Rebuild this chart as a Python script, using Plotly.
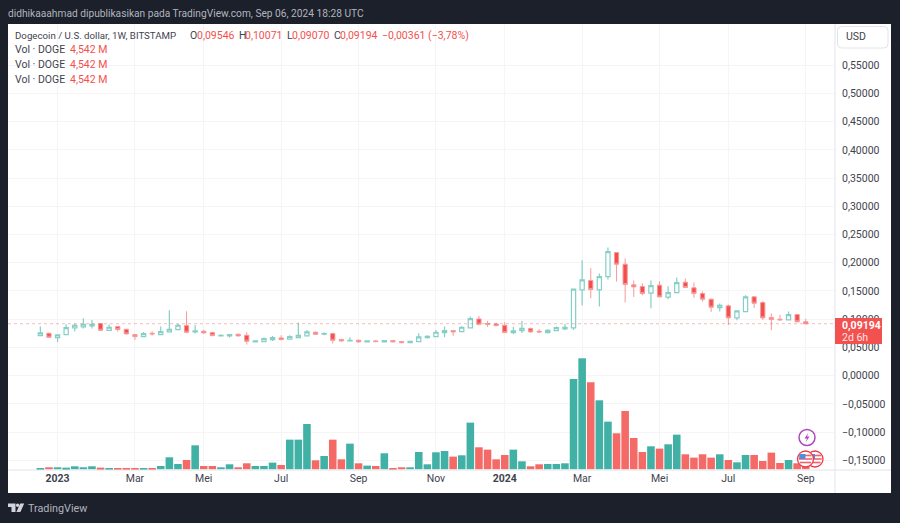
import pandas as pd
import plotly.graph_objects as go

# ------------------------
# Data (weekly DOGE/USD, Bitstamp)
# ------------------------
first_week = "2022-12-19"

open_ = [
    .0709, .0750, .0674, .0727, .0845, .0863, .0880, .0922, .0803, .0868,
    .0821, .0727, .0691, .0750, .0727, .0774, .0815, .0886, .0774, .0786,
    .0762, .0703, .0703, .0733, .0715, .0597, .0603, .0638, .0668, .0644,
    .0674, .0703, .0768, .0733, .0744, .0638, .0615, .0626, .0597, .0615,
    .0597, .0621, .0603, .0585, .0603, .0674, .0691, .0762, .0798, .0780,
    .0845, .1004, .0922, .0916, .0892, .0762, .0798, .0833, .0786, .0762,
    .0798, .0827, .0846, .1519, .1685, .1519, .1755, .2181, .1974, .1608,
    .1578, .1460, .1602, .1389, .1472, .1655, .1555, .1454, .1354, .1206,
    .1236, .1023, .1135, .1395, .1295, .1029, .0999, .0988, .1082, .09546,
]
high = [
    .0868, .0762, .0733, .0910, .0922, .1016, .0987, .0933, .0904, .0880,
    .0827, .0739, .0774, .0786, .0868, .1158, .0916, .1140, .0892, .0815,
    .0774, .0733, .0739, .0739, .0768, .0626, .0674, .0703, .0715, .0715,
    .0939, .0809, .0786, .0768, .0762, .0650, .0679, .0638, .0626, .0632,
    .0632, .0626, .0609, .0615, .0750, .0715, .0809, .0868, .0809, .0874,
    .1046, .1057, .0969, .0939, .0951, .0863, .0969, .0851, .0821, .0821,
    .0868, .0916, .1535, .2045, .1903, .1809, .2269, .2190, .2074, .1685,
    .1637, .1685, .1673, .1584, .1738, .1720, .1649, .1490, .1360, .1277,
    .1259, .1153, .1425, .1407, .1318, .1100, .1076, .1135, .1094, .10071,
]
low = [
    .0703, .0674, .0597, .0725, .0780, .0833, .0833, .0798, .0792, .0780,
    .0733, .0632, .0685, .0709, .0721, .0768, .0809, .0750, .0744, .0744,
    .0697, .0697, .0674, .0697, .0550, .0585, .0597, .0615, .0626, .0638,
    .0662, .0697, .0721, .0715, .0567, .0603, .0603, .0585, .0585, .0591,
    .0585, .0591, .0573, .0579, .0597, .0656, .0679, .0679, .0703, .0774,
    .0839, .0892, .0863, .0874, .0756, .0739, .0756, .0762, .0762, .0756,
    .0792, .0809, .0810, .1242, .1371, .1224, .1702, .1667, .1295, .1395,
    .1425, .1194, .1389, .1354, .1466, .1549, .1377, .1312, .1129, .1135,
    .0899, .0982, .1129, .1200, .0988, .0804, .0982, .0982, .0940, .09070,
]
close = [
    .0756, .0679, .0721, .0851, .0892, .0910, .0910, .0803, .0857, .0815,
    .0739, .0691, .0744, .0739, .0780, .0821, .0892, .0768, .0792, .0756,
    .0709, .0715, .0727, .0703, .0609, .0615, .0656, .0674, .0638, .0691,
    .0715, .0774, .0733, .0744, .0626, .0615, .0626, .0597, .0615, .0603,
    .0621, .0597, .0585, .0609, .0685, .0697, .0768, .0798, .0774, .0857,
    .1010, .0910, .0910, .0886, .0762, .0792, .0839, .0774, .0774, .0803,
    .0851, .0857, .1531, .1696, .1525, .1755, .2198, .1974, .1614, .1572,
    .1454, .1596, .1395, .1472, .1649, .1561, .1454, .1354, .1212, .1247,
    .1023, .1147, .1395, .1283, .1023, .0993, .0988, .1082, .0955, .09194,
]
# volume in millions of DOGE
volume = [
    2.0, 3.0, 3.0, 2.5, 4.5, 3.0, 4.5, 2.5, 2.0, 2.0,
    2.0, 2.0, 2.0, 2.0, 5.0, 18.0, 8.0, 14.0, 36.0, 5.0,
    5.0, 3.0, 7.5, 3.0, 9.0, 5.0, 5.0, 10.0, 6.5, 44.5,
    44.5, 68.0, 13.5, 20.0, 44.5, 15.0, 38.5, 9.0, 5.5, 5.0,
    24.0, 2.0, 3.0, 3.0, 26.0, 7.5, 25.5, 27.5, 19.0, 21.0,
    70.0, 33.0, 29.5, 15.0, 21.5, 29.5, 12.0, 4.5, 7.5, 8.0,
    8.0, 9.0, 135.5, 166.5, 130.5, 103.5, 71.5, 54.0, 87.5, 47.0,
    26.0, 34.5, 31.0, 37.5, 52.0, 22.5, 17.5, 22.5, 17.5, 22.5,
    14.0, 10.5, 21.5, 21.5, 12.5, 25.0, 9.5, 14.0, 9.0, 4.542,
]

x_tick_dates = ["2023-01-02", "2023-03-06", "2023-05-01", "2023-07-03", "2023-09-04", "2023-11-06",
                "2024-01-01", "2024-03-04", "2024-05-06", "2024-07-01", "2024-09-02"]
x_tick_labels = ["<b>2023</b>", "Mar", "Mei", "Jul", "Sep", "Nov", "<b>2024</b>", "Mar", "Mei", "Jul", "Sep"]

y_tick_values = [.55, .50, .45, .40, .35, .30, .25, .20, .15, .10, .05, 0, -.05, -.10, -.15]
y_tick_labels = ["0,55000", "0,50000", "0,45000", "0,40000", "0,35000", "0,30000", "0,25000", "0,20000",
                 "0,15000", "0,10000", "0,05000", "0,00000", "\u22120,05000", "\u22120,10000", "\u22120,15000"]

last_price = 0.09194

# ------------------------
# Colours and frame
# ------------------------
DARK = "#1c202b"
UP = "#85cfc6"
DOWN_LINE = "#f69a98"
DOWN_FILL = "#f14e4c"
VOL_UP = "#41b0a5"
VOL_DOWN = "#f46a67"
GRID = "#f5f5f7"
AXIS_LINE = "#e2e4ea"
TEXT = "#3f434e"
RED_TEXT = "#f2504e"
FONT = "Roboto"

LEFT, RIGHT, TOP, BOTTOM = 8, 834, 24, 470
W, H = 900, 523


def fx(px):
    return (px - LEFT) / (RIGHT - LEFT)


def fy(py):
    return (BOTTOM - py) / (BOTTOM - TOP)


dates = pd.date_range(first_week, periods=len(close), freq="7D")
vol_colors = [VOL_UP if c >= o else VOL_DOWN for o, c in zip(open_, close)]

fig = go.Figure()

fig.add_trace(go.Bar(
    x=dates, y=volume, yaxis="y2",
    marker=dict(color=vol_colors, line=dict(width=0)),
    hoverinfo="skip", showlegend=False
))
fig.add_trace(go.Candlestick(
    x=dates, open=open_, high=high, low=low, close=close,
    increasing=dict(line=dict(color=UP, width=1.2), fillcolor="#ffffff"),
    decreasing=dict(line=dict(color=DOWN_LINE, width=1), fillcolor=DOWN_FILL),
    whiskerwidth=0, showlegend=False
))

fig.update_layout(
    width=W, height=H,
    margin=dict(l=LEFT, r=W - RIGHT, t=TOP, b=H - BOTTOM),
    paper_bgcolor=DARK, plot_bgcolor="#ffffff",
    font=dict(family=FONT, size=10.5, color=TEXT),
    showlegend=False, bargap=0.12,
    xaxis=dict(
        type="date", range=["2022-11-22 16:00", "2024-09-25"],
        rangeslider=dict(visible=False),
        tickmode="array", tickvals=x_tick_dates, ticktext=x_tick_labels,
        showgrid=True, gridcolor=GRID, gridwidth=1, zeroline=False,
        showline=False, ticks="", tickfont=dict(size=10.5, color=TEXT)
    ),
    yaxis=dict(
        side="right", range=[-0.1672, 0.6229],
        tickmode="array", tickvals=y_tick_values, ticktext=y_tick_labels,
        showgrid=True, gridcolor=GRID, gridwidth=1, zeroline=False,
        showline=False, ticks="", ticklabelstandoff=7, tickfont=dict(size=10.5, color=TEXT)
    ),
    yaxis2=dict(overlaying="y", side="left", range=[-1.05, 668], visible=False, fixedrange=True),
)

# white chart panel, the price and time axes sit on it
shapes = [
    dict(type="rect", xref="paper", yref="paper", layer="below",
         x0=fx(8), x1=fx(891), y0=fy(24), y1=fy(493), fillcolor="#ffffff", line_width=0),
    dict(type="line", xref="paper", yref="paper", layer="above",
         x0=fx(835), x1=fx(835), y0=fy(24), y1=fy(493), line=dict(color=AXIS_LINE, width=1)),
    dict(type="line", xref="paper", yref="paper", layer="above",
         x0=fx(8), x1=fx(891), y0=fy(470), y1=fy(470), line=dict(color=AXIS_LINE, width=1)),
    # last price line
    dict(type="line", xref="paper", yref="y", layer="above",
         x0=0, x1=1, y0=last_price, y1=last_price,
         line=dict(color="rgba(242,80,78,0.4)", width=1, dash="dot")),
    # last price tag
    dict(type="rect", xref="paper", yref="paper", layer="above",
         x0=fx(835), x1=fx(882), y0=fy(318), y1=fy(344), fillcolor="#f2514f", line_width=0),
]


def box_path(x0, y0, x1, y1, r):
    return (f"M {fx(x0 + r)} {fy(y0)} L {fx(x1 - r)} {fy(y0)} Q {fx(x1)} {fy(y0)} {fx(x1)} {fy(y0 + r)} "
            f"L {fx(x1)} {fy(y1 - r)} Q {fx(x1)} {fy(y1)} {fx(x1 - r)} {fy(y1)} "
            f"L {fx(x0 + r)} {fy(y1)} Q {fx(x0)} {fy(y1)} {fx(x0)} {fy(y1 - r)} "
            f"L {fx(x0)} {fy(y0 + r)} Q {fx(x0)} {fy(y0)} {fx(x0 + r)} {fy(y0)} Z")


def poly_path(points):
    return "M " + " L ".join(f"{fx(px)} {fy(py)}" for px, py in points) + " Z"


def paper_shape(path, fill, line_color=None, line_width=0):
    return dict(type="path", xref="paper", yref="paper", layer="above", path=path, fillcolor=fill,
                line=dict(color=line_color or fill, width=line_width))


def circle(cx, cy, r, fill, line_color, line_width):
    return dict(type="circle", xref="paper", yref="paper", layer="above",
                x0=fx(cx - r), x1=fx(cx + r), y0=fy(cy + r), y1=fy(cy - r),
                fillcolor=fill, line=dict(color=line_color, width=line_width))


# USD button
shapes.append(paper_shape(box_path(837.5, 26.5, 888, 48, 4), "rgba(255,255,255,0)", AXIS_LINE, 1))

# TradingView logo
shapes.append(paper_shape(poly_path([(8, 503.5), (15.5, 503.5), (15.5, 512), (11.5, 512), (11.5, 507), (8, 507)]), "#d1d4dc"))
shapes.append(circle(17.6, 505.2, 1.7, "#d1d4dc", "#d1d4dc", 0))
shapes.append(paper_shape(poly_path([(20.2, 503.5), (24.2, 503.5), (20.4, 512), (16.4, 512)]), "#d1d4dc"))

# event markers above the last bars
shapes.append(circle(807, 437.5, 8, "#ffffff", "#ab47bc", 1.5))
shapes.append(paper_shape(poly_path([(808.5, 432.5), (804.5, 438.5), (807, 438.5), (805.5, 442.5), (809.5, 436.5), (807, 436.5)]), "#ab47bc"))
for cx in [815, 805.5]:
    shapes.append(circle(cx, 459, 8, "#ffffff", "#f23645", 1.3))
    for sy, half in [(455.5, 6.0), (459, 6.7), (462.5, 5.6)]:
        shapes.append(dict(type="line", xref="paper", yref="paper", layer="above",
                           x0=fx(cx - half), x1=fx(cx + half), y0=fy(sy), y1=fy(sy),
                           line=dict(color="#f4636a", width=1.6)))
    shapes.append(paper_shape(poly_path([(cx - 6, 454), (cx, 454), (cx, 459), (cx - 6.5, 459)]), "#4b8fe0"))

fig.update_layout(shapes=shapes)


def label(px, py, text, color=TEXT, size=10.5, anchor="left"):
    fig.add_annotation(xref="paper", yref="paper", x=fx(px), y=fy(py), text=text, showarrow=False,
                       xanchor=anchor, yanchor="middle", borderpad=0, borderwidth=0,
                       font=dict(family=FONT, size=size, color=color))


# header and footer on the dark frame
label(8, 13, "didhikaaahmad dipublikasikan pada TradingView.com, Sep 06, 2024 18:28 UTC", "#b2b5be", 10.2)
label(28, 508, "TradingView", "#b2b5be", 10.8)

# OHLC legend
label(15, 35.5, "Dogecoin / U.S. dollar, 1W, BITSTAMP", TEXT, 9.7)
for px, letter, vx, value in [(190, "O", 197, "0,09546"), (239, "H", 245, "0,10071"),
                              (287, "L", 292, "0,09070"), (334, "C", 340, "0,09194")]:
    label(px, 35.5, letter)
    label(vx, 35.5, value, RED_TEXT)
label(382, 35.5, "\u22120,00361 (\u22123,78%)", RED_TEXT)
for py in [50, 64.5, 79]:
    label(15, py, "Vol \u00b7 DOGE")
    label(70, py, "4,542 M", RED_TEXT)

# price axis extras
label(846, 37, "USD", TEXT, 10.5)
label(842, 325, "<b>0,09194</b>", "#ffffff", 10.5)
label(842, 337, "2d 6h", "#ffe3e2", 10.5)

fig.write_html("out.html", config={"displayModeBar": False}, post_script="document.body.style.margin='0';")
